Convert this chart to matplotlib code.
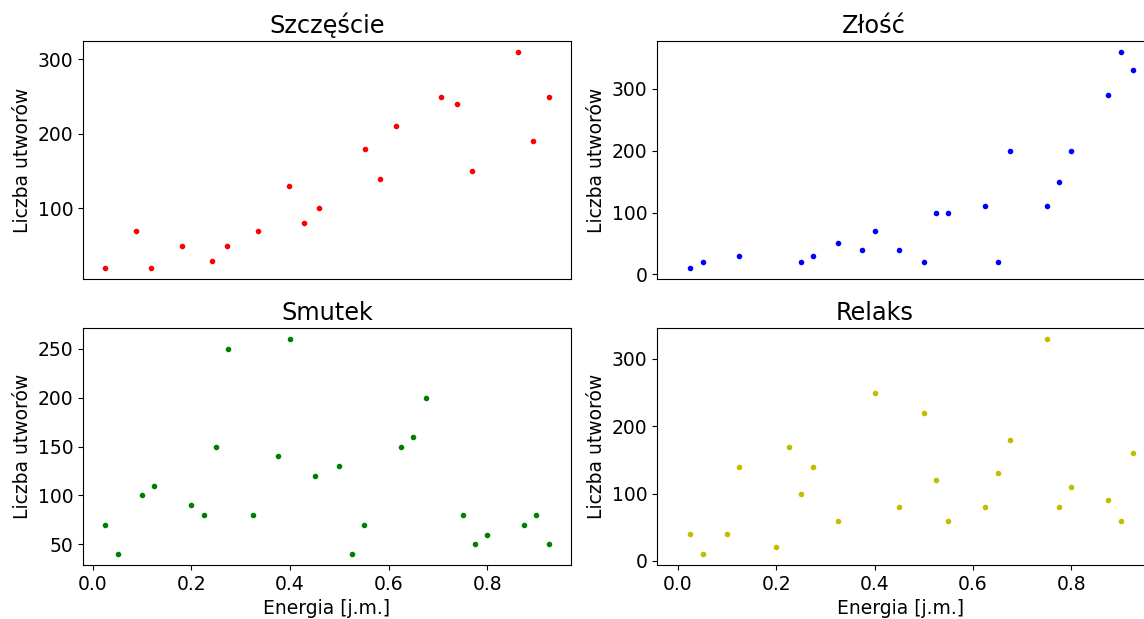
import matplotlib
matplotlib.use("Agg")
import matplotlib.pyplot as plt

plt.rcParams.update({
    "font.family": "DejaVu Sans",
    "font.size": 13.5,
    "xtick.labelsize": 13.5, "ytick.labelsize": 13.5,
    "axes.labelsize": 13.5, "axes.titlesize": 17.3,
})

# Szczęście
x_happy = [0.025, 0.087, 0.118, 0.180, 0.242, 0.273, 0.335, 0.397, 0.428, 0.459,
           0.552, 0.583, 0.614, 0.707, 0.738, 0.769, 0.862, 0.893, 0.925]
y_happy = [20, 70, 20, 50, 30, 50, 70, 130, 80, 100,
           180, 140, 210, 250, 240, 150, 310, 190, 250]

# Złość
x_angry = [0.025, 0.05, 0.125, 0.25, 0.275, 0.325, 0.375, 0.4, 0.45, 0.5, 0.525,
           0.55, 0.625, 0.65, 0.675, 0.75, 0.775, 0.8, 0.875, 0.9, 0.925]
y_angry = [10, 20, 30, 20, 30, 50, 40, 70, 40, 20, 100,
           100, 110, 20, 200, 110, 150, 200, 290, 360, 330]

# Smutek
x_sad = [0.025, 0.05, 0.1, 0.125, 0.2, 0.225, 0.25, 0.275, 0.325, 0.375, 0.4, 0.45,
         0.5, 0.525, 0.55, 0.625, 0.65, 0.675, 0.75, 0.775, 0.8, 0.875, 0.9, 0.925]
y_sad = [70, 40, 100, 110, 90, 80, 150, 250, 80, 140, 260, 120,
         130, 40, 70, 150, 160, 200, 80, 50, 60, 70, 80, 50]

# Relaks
x_relax = [0.025, 0.05, 0.1, 0.125, 0.2, 0.225, 0.25, 0.275, 0.325, 0.4, 0.45, 0.5,
           0.525, 0.55, 0.625, 0.65, 0.675, 0.75, 0.775, 0.8, 0.875, 0.9, 0.925]
y_relax = [40, 10, 40, 140, 20, 170, 100, 140, 60, 250, 80, 220,
           120, 60, 80, 130, 180, 330, 80, 110, 90, 60, 160]

W, H = 1144, 619
fig = plt.figure(figsize=(W / 100, H / 100), dpi=100)


def box(l, t, r, b):
    # pixel box -> figure fraction
    return [l / W, 1 - b / H, (r - l) / W, (b - t) / H]


ax_h = fig.add_axes(box(83, 41, 571, 279))
ax_a = fig.add_axes(box(657, 41, 1145, 279))
ax_s = fig.add_axes(box(83, 328, 571, 565))
ax_r = fig.add_axes(box(657, 328, 1145, 565))

panels = [
    (ax_h, x_happy, y_happy, "r.", "Szczęście", 0.5),
    (ax_a, x_angry, y_angry, "b.", "Złość", 0.445),
    (ax_s, x_sad, y_sad, "g.", "Smutek", 0.5),
    (ax_r, x_relax, y_relax, "y.", "Relaks", 0.445),
]
for ax, xs, ys, fmt, title, tx in panels:
    ax.plot(xs, ys, fmt)
    ax.set_ylabel("Liczba utworów")
    ax.set_title(title, x=tx)

# right column: shifted range, cut off at the figure edge
for ax in (ax_a, ax_r):
    ax.set_xlim(-0.0427, -0.0427 + 488 / 491.7)

for ax in (ax_h, ax_a):
    ax.set_xticks([])
for ax in (ax_s, ax_r):
    ax.set_xlabel("Energia [j.m.]")
    ax.set_xticks([0.0, 0.2, 0.4, 0.6, 0.8])

ax_a.set_yticks([0, 100, 200, 300])
ax_r.set_yticks([0, 100, 200, 300])
ax_s.set_yticks([50, 100, 150, 200, 250])

fig.savefig("out.png", dpi=100)
